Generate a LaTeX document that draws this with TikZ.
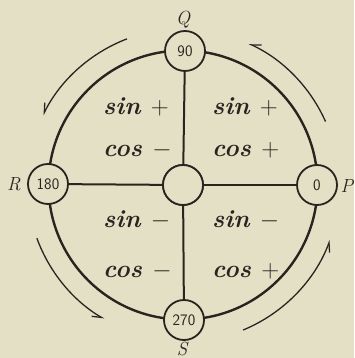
\documentclass[tikz,border=0pt]{standalone}
\usetikzlibrary{arrows.meta}
\definecolor{bg}{RGB}{228,224,198}
\definecolor{ink}{RGB}{42,36,32}
\begin{document}
\begin{tikzpicture}[x=1pt,y=1pt,
  hub/.style={circle,draw=ink,fill=bg,line width=1.8pt,minimum size=40pt,inner sep=0pt,
    font=\sffamily\fontsize{16}{16}\selectfont,text=ink},
  lbl/.style={inner sep=0pt,text=ink,font=\fontsize{19}{19}\selectfont\itshape},
  trig/.style={anchor=base west,inner sep=0pt,text=ink,font=\fontsize{25}{25}\selectfont\bfseries\itshape},
  turn/.style={draw=ink,line width=1.3pt,-{Straight Barb[right,length=9pt,width=8pt]}}]
\fill[bg] (0,0) rectangle (354,358);
\useasboundingbox (0,0) rectangle (354,358);
\coordinate (C) at (183,173);
\draw[ink,line width=2.4pt] (C) circle[radius=134.5];
\node[hub] (O) at (183,173) {};
\draw[ink,line width=2pt] (O) -- (185,307);
\draw[ink,line width=2pt] (O) -- (184,38);
\draw[ink,line width=2pt] (O) -- (48,174);
\draw[ink,line width=2pt] (O) -- (317,173);
\node[hub] (Q) at (185,307) {90};
\node[hub] (S) at (184,38) {270};
\node[hub] (R) at (48,174) {180};
\node[hub] (P) at (317,173) {0};
\node[hub] at (O) {};
\node[lbl] (lQ) at (183,338) {Q};
\node[lbl] (lR) at (14,174) {R};
\node[lbl] (lP) at (347,172) {P};
\node[lbl] (lS) at (182,9) {S};
\node[trig] (t1) at (103,243) {sin $+$};
\node[trig] (t2) at (103,201) {cos $-$};
\node[trig] (t3) at (212,243) {sin $+$};
\node[trig] (t4) at (212,201) {cos $+$};
\node[trig] (t5) at (103,130) {sin $-$};
\node[trig] (t6) at (103,80) {cos $-$};
\node[trig] (t7) at (212,130) {sin $-$};
\node[trig] (t8) at (212,80) {cos $+$};
\draw[turn] (C) ++(111:156.5) arc[start angle=111,end angle=153.5,radius=156.5];
\draw[turn] (C) ++(24:156) arc[start angle=24,end angle=65,radius=156];
\draw[turn] (C) ++(200:155.5) arc[start angle=200,end angle=239.5,radius=155.5];
\draw[turn] (C) ++(292.5:157) arc[start angle=292.5,end angle=339.5,radius=157];
\end{tikzpicture}
\end{document}
